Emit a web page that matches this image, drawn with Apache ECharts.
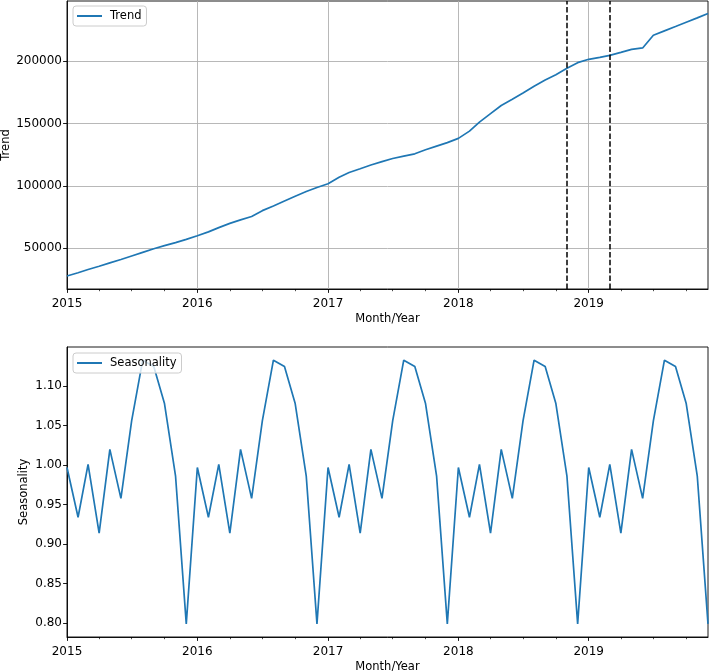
<!DOCTYPE html>
<html>
<head>
<meta charset="utf-8">
<script src="https://cdn.jsdelivr.net/npm/echarts@6/dist/echarts.min.js"></script>
<style>
html,body{margin:0;padding:0;background:#fff;}
#chart{width:709px;height:671px;}
</style>
</head>
<body>
<div id="chart"></div>
<script>
// ---- data ----
const months = [
  '2015-01','2015-02','2015-03','2015-04','2015-05','2015-06','2015-07','2015-08','2015-09','2015-10','2015-11','2015-12',
  '2016-01','2016-02','2016-03','2016-04','2016-05','2016-06','2016-07','2016-08','2016-09','2016-10','2016-11','2016-12',
  '2017-01','2017-02','2017-03','2017-04','2017-05','2017-06','2017-07','2017-08','2017-09','2017-10','2017-11','2017-12',
  '2018-01','2018-02','2018-03','2018-04','2018-05','2018-06','2018-07','2018-08','2018-09','2018-10','2018-11','2018-12',
  '2019-01','2019-02','2019-03','2019-04','2019-05','2019-06','2019-07','2019-08','2019-09','2019-10','2019-11','2019-12'
];
const trend = [
  27800, 30400, 33000, 35600, 38300, 41000, 43800, 46700, 49600, 52100, 54600, 57200,
  60100, 63200, 66600, 70000, 72800, 75500, 80200, 84000, 88000, 91800, 95500, 98800,
  101800, 107000, 110800, 113800, 116800, 119500, 122000, 124000, 125800, 129000, 132000, 134800,
  138200, 144000, 151200, 158000, 164500, 169500, 174500, 180000, 185000, 189200, 194400, 198900,
  201600, 203200, 204800, 207200, 209600, 210700, 220900, 224400, 227900, 231300, 234800, 238400
];
const seasonality = [
  0.997, 0.934, 1.001, 0.914, 1.020, 0.958, 1.056, 1.133, 1.125, 1.078, 0.986, 0.799,
  0.997, 0.934, 1.001, 0.914, 1.020, 0.958, 1.056, 1.133, 1.125, 1.078, 0.986, 0.799,
  0.997, 0.934, 1.001, 0.914, 1.020, 0.958, 1.056, 1.133, 1.125, 1.078, 0.986, 0.799,
  0.997, 0.934, 1.001, 0.914, 1.020, 0.958, 1.056, 1.133, 1.125, 1.078, 0.986, 0.799,
  0.997, 0.934, 1.001, 0.914, 1.020, 0.958, 1.056, 1.133, 1.125, 1.078, 0.986, 0.799
];
const yearTicks = ['2015-01','2016-01','2017-01','2018-01','2019-01'];
const quarterTicks = [
  '2015-04','2015-07','2015-10','2016-04','2016-07','2016-10','2017-04','2017-07','2017-10',
  '2018-04','2018-07','2018-10','2019-04','2019-07','2019-10'
];
const trendTicks = [50000, 100000, 150000, 200000];
const seasTicks = [0.80, 0.85, 0.90, 0.95, 1.00, 1.05, 1.10];
const cutoffs = ['2018-11', '2019-03'];

// ---- helpers ----
const ts = s => Date.UTC(+s.slice(0, 4), +s.slice(5, 7) - 1, 1);
const FONT = 'DejaVu Sans';
const BLUE = '#1f77b4';
const xMin = ts(months[0]), xMax = ts(months[months.length - 1]);

function mainX(gridIndex, showGrid) {
  return {
    type: 'value', gridIndex, min: xMin, max: xMax, scale: true, position: 'bottom',
    name: 'Month/Year', nameLocation: 'middle', nameGap: 24,
    nameTextStyle: { fontFamily: FONT, fontSize: 11.5, color: '#000' },
    axisLine: { show: true, onZero: false, lineStyle: { color: '#000', width: 0.9 } },
    axisTick: { show: true, length: 3.9, lineStyle: { color: '#000', width: 0.9 }, customValues: yearTicks.map(ts) },
    axisLabel: {
      show: true, margin: 9, fontFamily: FONT, fontSize: 12, color: '#000',
      customValues: yearTicks.map(ts),
      formatter: v => String(new Date(v).getUTCFullYear())
    },
    splitLine: { show: showGrid, lineStyle: { color: '#b0b0b0', width: 0.9 } }
  };
}
function minorX(gridIndex) {
  return {
    type: 'value', gridIndex, min: xMin, max: xMax, scale: true, position: 'bottom',
    axisLine: { show: false, onZero: false },
    axisTick: { show: true, length: 2.2, lineStyle: { color: '#000', width: 0.7 }, customValues: quarterTicks.map(ts) },
    axisLabel: { show: false, customValues: quarterTicks.map(ts) },
    splitLine: { show: false }
  };
}
function yAxis(gridIndex, name, nameGap, min, max, ticks, showGrid, fmt) {
  return {
    type: 'value', gridIndex, min, max, scale: true,
    name, nameLocation: 'middle', nameRotate: 90, nameGap, nameMoveOverlap: false,
    nameTextStyle: { fontFamily: FONT, fontSize: 11.5, color: '#000' },
    axisLine: { show: true, onZero: false, lineStyle: { color: '#000', width: 0.9 } },
    axisTick: { show: true, length: 3.9, lineStyle: { color: '#000', width: 0.9 }, customValues: ticks },
    axisLabel: { show: true, margin: 5, fontFamily: FONT, fontSize: 12, color: '#000', customValues: ticks, formatter: fmt },
    splitLine: { show: showGrid, lineStyle: { color: '#b0b0b0', width: 0.9 } }
  };
}
function legend(name, top) {
  return {
    data: [{ name, icon: 'rect' }],
    left: 73, top,
    orient: 'vertical',
    itemWidth: 25, itemHeight: 2,
    padding: [4, 5, 4, 4],
    borderColor: '#cccccc', borderWidth: 1, borderRadius: 3,
    backgroundColor: 'rgba(255,255,255,0.8)',
    textStyle: { fontFamily: FONT, fontSize: 11.5, color: '#000', padding: [0, 0, 0, 3] },
    selectedMode: false
  };
}

const chart = echarts.init(document.getElementById('chart'), null, { renderer: 'canvas' });
chart.setOption({
  animation: false,
  backgroundColor: '#fff',
  grid: [
    { left: 67, right: 1, top: 1, height: 288, show: true, borderColor: '#000', borderWidth: 0.9, backgroundColor: 'transparent', containLabel: false, outerBoundsMode: 'none' },
    { left: 67, right: 1, top: 347, height: 290, show: true, borderColor: '#000', borderWidth: 0.9, backgroundColor: 'transparent', containLabel: false, outerBoundsMode: 'none' }
  ],
  legend: [legend('Trend', 6), legend('Seasonality', 353)],
  xAxis: [mainX(0, true), minorX(0), mainX(1, false), minorX(1)],
  yAxis: [
    yAxis(0, 'Trend', 55, 17360, 248360, trendTicks, true, v => String(v)),
    yAxis(1, 'Seasonality', 37, 0.7823, 1.1497, seasTicks, false, v => v.toFixed(2))
  ],
  series: [
    {
      name: 'Trend', type: 'line', xAxisIndex: 0, yAxisIndex: 0,
      data: months.map((m, i) => [ts(m), trend[i]]),
      showSymbol: false, symbol: 'none', smooth: false,
      lineStyle: { color: BLUE, width: 1.7 }, itemStyle: { color: BLUE },
      markLine: {
        silent: true, symbol: ['none', 'none'],
        label: { show: false },
        lineStyle: { color: '#000', type: [5.5, 2.4], width: 1.5 },
        data: cutoffs.map(c => ({ xAxis: ts(c) }))
      }
    },
    {
      name: 'Seasonality', type: 'line', xAxisIndex: 2, yAxisIndex: 1,
      data: months.map((m, i) => [ts(m), seasonality[i]]),
      showSymbol: false, symbol: 'none', smooth: false,
      lineStyle: { color: BLUE, width: 1.7 }, itemStyle: { color: BLUE }
    }
  ]
});
</script>
</body>
</html>
